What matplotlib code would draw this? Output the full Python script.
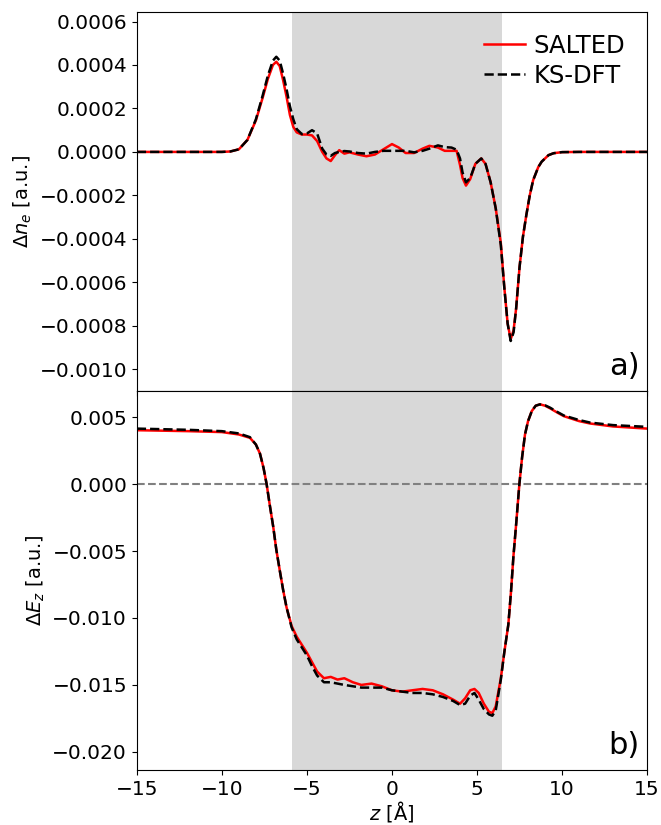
import numpy as np
import matplotlib
matplotlib.use("Agg")
import matplotlib.pyplot as plt
from matplotlib.ticker import MultipleLocator

# ── Values ───────────────────────────────────────────────────────────────────
# a) density difference, in units of 1e-4 a.u.
z_n = [-15, -11, -10, -9.5, -9.0, -8.5, -8.0, -7.6, -7.3, -7.0, -6.8, -6.6,
       -6.4, -6.2, -6.0, -5.8, -5.6, -5.3, -5.0, -4.7, -4.4, -4.1, -3.85,
       -3.6, -3.35, -3.1, -2.8, -2.5, -2.0, -1.5, -1.0, -0.5, 0.0, 0.4, 0.8,
       1.3, 1.8, 2.2, 2.7, 3.1, 3.5, 3.8, 4.0, 4.15, 4.35, 4.6, 4.9, 5.25,
       5.5, 5.8, 6.1, 6.4, 6.6, 6.8, 6.98, 7.15, 7.3, 7.5, 7.7, 7.9, 8.1,
       8.3, 8.6, 8.8, 9.2, 9.5, 10, 11, 15]
dn_salted = [0, 0, 0, 0.02, 0.12, 0.55, 1.45, 2.5, 3.35, 4.0, 4.15, 3.95,
             3.3, 2.55, 1.7, 1.15, 0.9, 0.8, 0.8, 0.76, 0.5, 0.0, -0.3,
             -0.42, -0.15, 0.08, -0.08, -0.02, -0.12, -0.2, -0.12, 0.12, 0.36,
             0.2, -0.05, -0.05, 0.15, 0.28, 0.2, 0.05, 0.05, 0.05, -0.6, -1.2,
             -1.55, -1.25, -0.55, -0.3, -0.55, -1.4, -2.6, -4.2, -6.2, -7.9,
             -8.62, -8.2, -7.2, -5.3, -3.9, -2.9, -2.0, -1.3, -0.7, -0.45,
             -0.15, -0.06, -0.01, 0, 0]
dn_dft = [0, 0, 0, 0.02, 0.12, 0.55, 1.5, 2.6, 3.5, 4.2, 4.38, 4.2,
          3.6, 2.9, 2.1, 1.5, 1.05, 0.82, 0.85, 1.0, 0.85, 0.15, -0.12,
          -0.18, -0.05, 0.0, 0.04, 0.02, -0.05, -0.08, 0.0, 0.05, 0.05,
          0.05, 0.05, -0.02, 0.05, 0.15, 0.3, 0.22, 0.2, 0.1, -0.3, -0.95,
          -1.4, -1.2, -0.55, -0.3, -0.55, -1.4, -2.6, -4.3, -6.2, -7.9,
          -8.7, -8.3, -7.2, -5.3, -3.9, -2.9, -2.0, -1.3, -0.7, -0.45,
          -0.15, -0.06, -0.01, 0, 0]

# b) field difference, in units of 1e-3 a.u.
z_e = [-15, -12, -10, -9, -8.35, -8.0, -7.76, -7.55, -7.37, -7.18, -6.98,
       -6.8, -6.59, -6.4, -6.2, -5.9, -5.6, -5.3, -5.0, -4.7, -4.4, -4.0,
       -3.6, -3.2, -2.8, -2.3, -1.8, -1.2, -0.6, 0.0, 0.6, 1.2, 1.8, 2.4,
       3.0, 3.6, 4.0, 4.3, 4.6, 4.85, 5.1, 5.4, 5.7, 5.9, 6.1, 6.4, 6.6,
       6.84, 7.0, 7.14, 7.3, 7.49, 7.65, 7.82, 8.0, 8.22, 8.45, 8.7, 9.0,
       9.3, 9.7, 10.1, 11, 11.65, 13, 15]
de_salted = [4.02, 3.95, 3.88, 3.7, 3.45, 2.95, 2.27, 1.2, 0.0, -1.6, -3.2,
             -4.9, -6.5, -7.9, -9.2, -10.6, -11.4, -12.0, -12.6, -13.3,
             -14.0, -14.5, -14.4, -14.6, -14.5, -14.8, -15.0, -14.9, -15.1,
             -15.4, -15.5, -15.4, -15.3, -15.4, -15.7, -16.1, -16.4, -16.0,
             -15.4, -15.3, -15.6, -16.4, -17.0, -17.1, -16.6, -14.5, -12.6,
             -10.5, -8.0, -5.4, -3.0, 0.0, 2.0, 3.7, 4.7, 5.45, 5.85, 5.95,
             5.85, 5.65, 5.35, 5.07, 4.7, 4.52, 4.3, 4.14]
de_dft = [4.14, 4.05, 3.95, 3.78, 3.5, 2.95, 2.27, 1.2, 0.0, -1.6, -3.2,
          -4.9, -6.5, -7.9, -9.2, -10.7, -11.6, -12.2, -12.8, -13.6,
          -14.3, -14.8, -14.8, -14.9, -15.0, -15.1, -15.2, -15.2, -15.2,
          -15.4, -15.5, -15.6, -15.6, -15.7, -15.9, -16.2, -16.5, -16.4,
          -15.8, -15.6, -16.1, -16.8, -17.2, -17.3, -16.9, -14.6, -12.6,
          -10.5, -8.0, -5.4, -3.0, 0.0, 2.0, 3.7, 4.7, 5.45, 5.85, 5.95,
          5.88, 5.7, 5.4, 5.12, 4.78, 4.59, 4.4, 4.27]

slab = (-5.88, 6.46)   # shaded region

# ── Figure ───────────────────────────────────────────────────────────────────
plt.rcParams["font.size"] = 14.5
fig, (ax1, ax2) = plt.subplots(2, 1, sharex=True, figsize=(6.61, 8.25), dpi=100)
fig.subplots_adjust(left=0.207, right=0.979, top=0.9855, bottom=0.0667, hspace=0)

z_n = np.array(z_n)
z_e = np.array(z_e)

ax1.axvspan(*slab, color="gray", alpha=0.3, lw=0)
ax1.plot(z_n, np.array(dn_salted) * 1e-4, color="red", lw=1.8, label="SALTED")
ax1.plot(z_n, np.array(dn_dft) * 1e-4, color="black", ls="--", lw=1.8, label="KS-DFT")
ax1.set_ylim(-0.0011, 0.000644)
ax1.yaxis.set_major_locator(MultipleLocator(0.0002))
ax1.set_ylabel(r"$\Delta n_e$ [a.u.]", fontsize=14)
ax1.legend(loc="upper right", frameon=False, fontsize=17.5, handlelength=1.7,
           handletextpad=0.35, labelspacing=0.25)
ax1.text(0.985, 0.025, "a)", transform=ax1.transAxes, ha="right", va="bottom", fontsize=22)

ax2.axvspan(*slab, color="gray", alpha=0.3, lw=0)
ax2.axhline(0, color="gray", ls="--", lw=1.5)
ax2.plot(z_e, np.array(de_salted) * 1e-3, color="red", lw=1.8)
ax2.plot(z_e, np.array(de_dft) * 1e-3, color="black", ls="--", lw=1.8)
ax2.set_ylim(-0.02135, 0.00695)
ax2.yaxis.set_major_locator(MultipleLocator(0.005))
ax2.set_ylabel(r"$\Delta E_z$ [a.u.]", fontsize=14)
ax2.text(0.985, 0.025, "b)", transform=ax2.transAxes, ha="right", va="bottom", fontsize=22)

ax2.set_xlim(-15, 15)
ax2.xaxis.set_major_locator(MultipleLocator(5))
ax2.set_xlabel(r"$z$ [Å]", fontsize=14, labelpad=0)

plt.savefig("out.png", dpi=100)
